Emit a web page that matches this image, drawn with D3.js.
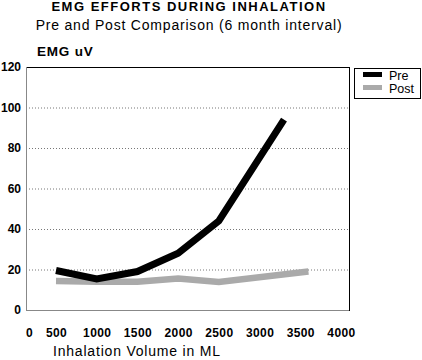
<!DOCTYPE html>
<html><head><meta charset="utf-8">
<script src="https://cdn.jsdelivr.net/npm/d3@7"></script>
<style>body{margin:0;background:#fff}svg{display:block;font-family:"Liberation Sans",Arial,sans-serif}</style>
</head><body><svg id="c" width="422" height="360"></svg>
<script>
const titleText = "EMG EFFORTS DURING INHALATION";
const subtitleText = "Pre and Post Comparison (6 month interval)";
const yTitle = "EMG uV";
const xTitle = "Inhalation Volume in ML";
const seriesNames = ["Pre", "Post"];
const preX = [500, 1000, 1500, 2000, 2500, 3300];
const preY = [19.5, 15.3, 19, 28, 44, 94];
const postX = [500, 1000, 1500, 2000, 2500, 3600];
const postY = [14.3, 14, 14, 15.5, 13.8, 19];
const xTicks = [0, 500, 1000, 1500, 2000, 2500, 3000, 3500, 4000];
const yTicks = [0, 20, 40, 60, 80, 100, 120];
const gridTicks = [20, 40, 60, 80, 100];

const svg = d3.select("#c");
const L = 26, R = 349, T = 67, B = 310;
const x = d3.scaleLinear().domain([0, 500, 4000]).range([29, 56, 341]);
const y = d3.scaleLinear().domain([0, 120]).range([B, T]);

svg.append("text").attr("x", 189).attr("y", 11).attr("text-anchor", "middle")
  .attr("font-size", 13).attr("font-weight", "bold").attr("letter-spacing", 1.5).text(titleText);
svg.append("text").attr("x", 189).attr("y", 29.5).attr("text-anchor", "middle")
  .attr("font-size", 14).attr("letter-spacing", 0.8).text(subtitleText);
svg.append("text").attr("x", 37).attr("y", 56)
  .attr("font-size", 13.5).attr("font-weight", "bold").attr("letter-spacing", 0.8).text(yTitle);
svg.append("text").attr("x", 53).attr("y", 356)
  .attr("font-size", 14).attr("letter-spacing", 0.8).text(xTitle);

// grid
svg.append("g").selectAll("line").data(gridTicks).join("line")
  .attr("x1", L).attr("x2", R).attr("y1", d => y(d) + 0.5).attr("y2", d => y(d) + 0.5)
  .attr("stroke", "#777").attr("stroke-width", 1).attr("stroke-dasharray", "1,2");

// frame
svg.append("line").attr("x1", L).attr("x2", R + 0.5).attr("y1", T + 0.5).attr("y2", T + 0.5).attr("stroke", "#000");
svg.append("line").attr("x1", R + 0.5).attr("x2", R + 0.5).attr("y1", T).attr("y2", B + 1).attr("stroke", "#000");
svg.append("line").attr("x1", L + 0.5).attr("x2", L + 0.5).attr("y1", T).attr("y2", B + 1).attr("stroke", "#888");
svg.append("line").attr("x1", L).attr("x2", R).attr("y1", B + 0.5).attr("y2", B + 0.5).attr("stroke", "#888");

// axes
const yAxis = svg.append("g").attr("transform", `translate(${L},0)`)
  .call(d3.axisLeft(y).tickValues(yTicks).tickSize(0).tickPadding(5));
yAxis.select(".domain").remove();
yAxis.selectAll("text").attr("font-size", 12).attr("font-weight", "bold")
  .attr("font-family", "Liberation Sans, Arial, sans-serif").attr("fill", "#000");

const xAxis = svg.append("g").attr("transform", `translate(0,${B})`)
  .call(d3.axisBottom(x).tickValues(xTicks).tickFormat(d3.format("d")).tickSize(0).tickPadding(18));
xAxis.select(".domain").remove();
xAxis.selectAll("text").attr("font-size", 12).attr("font-weight", "bold").attr("letter-spacing", 0.4)
  .attr("font-family", "Liberation Sans, Arial, sans-serif").attr("fill", "#000");

// lines
const line = d3.line().x(d => x(d[0])).y(d => y(d[1]));
svg.append("path").datum(d3.zip(postX, postY)).attr("d", line)
  .attr("fill", "none").attr("stroke", "#aaa").attr("stroke-width", 6.5).attr("stroke-linejoin", "miter");
svg.append("path").datum(d3.zip(preX, preY)).attr("d", line)
  .attr("fill", "none").attr("stroke", "#000").attr("stroke-width", 7).attr("stroke-linejoin", "miter");

// legend
const lg = svg.append("g");
lg.append("rect").attr("x", 354.5).attr("y", 68.5).attr("width", 66).attr("height", 30)
  .attr("fill", "#fff").attr("stroke", "#000");
const colors = ["#000", "#aaa"];
seriesNames.forEach((n, i) => {
  lg.append("rect").attr("x", 363).attr("y", 72 + i * 13).attr("width", 19).attr("height", 5).attr("fill", colors[i]);
  lg.append("text").attr("x", 389).attr("y", 80 + i * 13).attr("font-size", 12.5).text(n);
});
</script></body></html>
